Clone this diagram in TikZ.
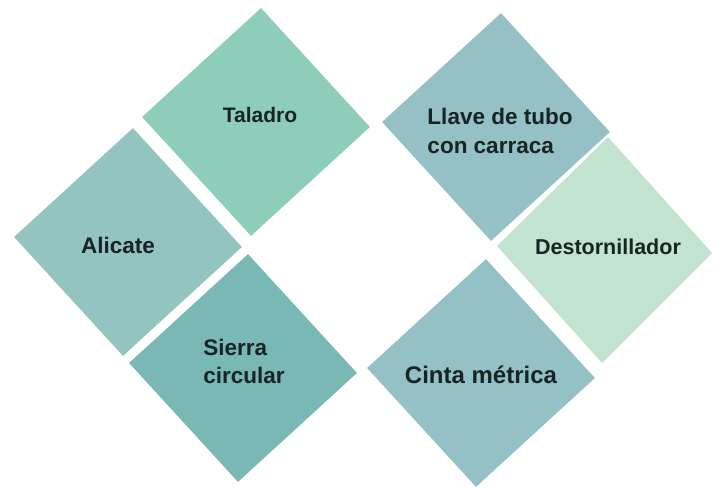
\documentclass[tikz,border=0pt]{standalone}
\usepackage{fontspec}
\setmainfont{Liberation Sans}
\definecolor{cTal}{RGB}{142,205,186}
\definecolor{cAli}{RGB}{147,196,192}
\definecolor{cSie}{RGB}{121,184,181}
\definecolor{cLla}{RGB}{148,192,198}
\definecolor{cDes}{RGB}{193,227,207}
\definecolor{cCin}{RGB}{148,193,198}
\definecolor{txt}{RGB}{22,36,36}
\newcommand\mydia[3]{\fill[#3] (#1+5,#2-113.9) -- (#1+113.9,#2+5) -- (#1-5,#2+113.9) -- (#1-113.9,#2-5) -- cycle;}
\tikzset{lbl/.style={text=txt, font=\bfseries\fontsize{21}{28}\selectfont, align=left, inner sep=0pt}}
\begin{document}
\begin{tikzpicture}[x=1pt,y=-1pt]
\useasboundingbox (0,0) rectangle (714,487);
\clip (0,0) rectangle (714,487);
\mydia{256}{122}{cTal}
\mydia{128}{242}{cAli}
\mydia{243}{368}{cSie}
\mydia{496}{127}{cLla}
\fill[cDes] (608,137) -- (712,253) -- (602,363) -- (497,246) -- cycle;
\mydia{481}{373}{cCin}
\node[lbl] (tal) at (260,115) {Taladro};
\node[lbl, font=\bfseries\fontsize{22.5}{28}\selectfont] (ali) at (118,245) {Alicate};
\node[lbl, font=\bfseries\fontsize{22.5}{28}\selectfont] (sie) at (244,361) {Sierra\\circular};
\node[lbl, font=\bfseries\fontsize{22.5}{29}\selectfont] (lla) at (500,131) {Llave de tubo\\con carraca};
\node[lbl, font=\bfseries\fontsize{21.5}{28}\selectfont] (des) at (608,247) {Destornillador};
\node[lbl, font=\bfseries\fontsize{24}{28}\selectfont] (cin) at (481,375) {Cinta métrica};
\end{tikzpicture}
\end{document}
